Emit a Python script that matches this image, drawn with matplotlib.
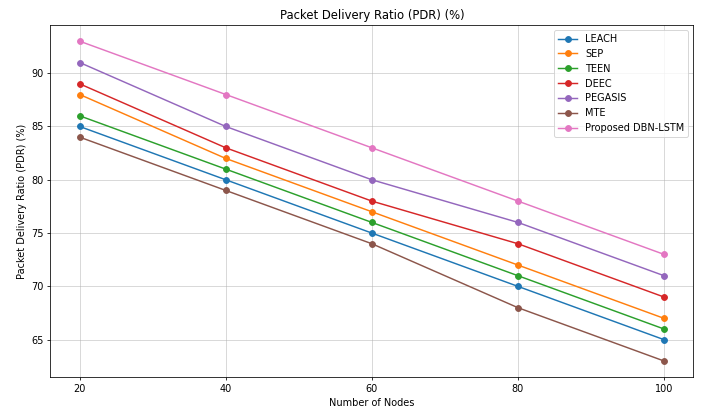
import matplotlib
matplotlib.use("Agg")
import matplotlib.pyplot as plt

nodes = [20, 40, 60, 80, 100]
leach = [85, 80, 75, 70, 65]
sep = [88, 82, 77, 72, 67]
teen = [86, 81, 76, 71, 66]
deec = [89, 83, 78, 74, 69]
pegasis = [91, 85, 80, 76, 71]
mte = [84, 79, 74, 68, 63]
proposed = [93, 88, 83, 78, 73]

series = [("LEACH", leach), ("SEP", sep), ("TEEN", teen), ("DEEC", deec),
          ("PEGASIS", pegasis), ("MTE", mte), ("Proposed DBN-LSTM", proposed)]

dpi = 70.1
fig = plt.figure(figsize=(701 / dpi, 410 / dpi), dpi=dpi)
ax = fig.add_axes([0.072, 0.0805, 0.917, 0.858])
for name, vals in series:
    ax.plot(nodes, vals, marker="o", label=name)
ax.set_title("Packet Delivery Ratio (PDR) (%)")
ax.set_xlabel("Number of Nodes")
ax.set_ylabel("Packet Delivery Ratio (PDR) (%)")
ax.set_xticks(nodes)
ax.grid(True, alpha=0.6)
ax.legend(loc="upper right")
fig.savefig("out.png", dpi=dpi)
